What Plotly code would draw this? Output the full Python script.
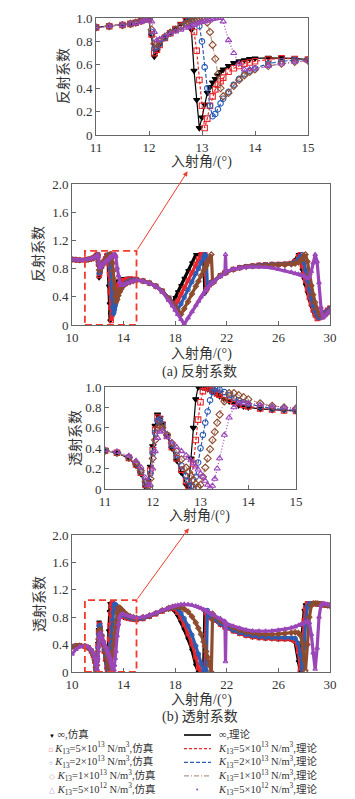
import plotly.graph_objects as go

W, H = 355, 799


def px(x):
    return x / W


def py(y):
    return 1 - y / H


# ---------------- data ----------------
ANGLE = [
    10.0, 10.3, 10.6, 11.0, 11.25, 11.5, 11.65, 11.75, 11.85, 11.9,
    11.95, 12.0, 12.05, 12.1, 12.15, 12.2, 12.3, 12.4, 12.5, 12.6,
    12.7, 12.75, 12.8, 12.85, 12.9, 12.95, 13.0, 13.05, 13.1, 13.15,
    13.2, 13.25, 13.3, 13.35, 13.4, 13.5, 13.6, 13.7, 13.8, 13.9,
    14.0, 14.25, 14.5, 14.75, 15.0, 15.5, 16.0, 16.5, 17.0, 17.5,
    17.8, 18.0, 18.2, 18.45, 18.7, 19.0, 19.3, 19.6, 19.8, 20.0,
    20.2, 20.3, 20.4, 20.5, 20.65, 20.8, 20.9, 21.0, 21.5, 21.85,
    21.9, 21.95, 22.5, 23.0, 23.5, 24.0, 24.5, 25.0, 25.5, 26.0,
    26.5, 27.0, 27.3, 27.55, 27.7, 27.85, 28.0, 28.1, 28.25, 28.4,
    28.55, 28.7, 28.85, 29.0, 29.15, 29.3, 29.45, 29.6, 29.8, 30.0,
]

# reflection coefficient
R_INF = [
    0.93, 0.925, 0.92, 0.92, 0.93, 0.94, 0.95, 0.96, 0.975, 0.985,
    0.995, 0.99, 0.85, 0.67, 0.72, 0.77, 0.83, 0.87, 0.91, 0.95,
    0.99, 1.0, 0.9, 0.55, 0.3, 0.06, 0.15, 0.26, 0.36, 0.41,
    0.45, 0.48, 0.51, 0.54, 0.56, 0.59, 0.615, 0.63, 0.64, 0.65,
    0.655, 0.66, 0.66, 0.655, 0.645, 0.625, 0.595, 0.55, 0.48, 0.38,
    0.31, 0.39, 0.47, 0.56, 0.66, 0.77, 0.88, 1.0, 1.0, 1.0,
    1.0, 0.45, 0.5, 0.53, 0.57, 0.6, 0.61, 0.62, 0.7, 0.74,
    0.745, 0.75, 0.79, 0.815, 0.83, 0.84, 0.85, 0.855, 0.86, 0.86,
    0.865, 0.88, 0.92, 1.0, 0.92, 0.78, 0.65, 0.57, 0.46, 0.36,
    0.27, 0.19, 0.13, 0.1, 0.11, 0.13, 0.16, 0.18, 0.21, 0.25,
]
R_K5E13 = [
    0.93, 0.925, 0.92, 0.92, 0.93, 0.94, 0.95, 0.96, 0.975, 0.985,
    0.995, 0.99, 0.86, 0.7, 0.73, 0.77, 0.83, 0.87, 0.905, 0.94,
    0.975, 0.99, 0.98, 0.88, 0.72, 0.47, 0.25, 0.06, 0.14, 0.25,
    0.33, 0.39, 0.43, 0.46, 0.49, 0.54, 0.57, 0.59, 0.61, 0.62,
    0.63, 0.645, 0.655, 0.65, 0.645, 0.625, 0.595, 0.55, 0.48, 0.38,
    0.31, 0.27, 0.34, 0.43, 0.52, 0.63, 0.74, 0.86, 0.94, 1.0,
    1.0, 1.0, 0.5, 0.53, 0.57, 0.6, 0.61, 0.62, 0.7, 0.74,
    0.745, 0.75, 0.79, 0.815, 0.83, 0.84, 0.85, 0.855, 0.86, 0.86,
    0.865, 0.875, 0.9, 0.97, 1.0, 0.85, 0.72, 0.63, 0.5, 0.39,
    0.3, 0.21, 0.14, 0.09, 0.1, 0.12, 0.15, 0.18, 0.21, 0.24,
]
R_K2E13 = [
    0.93, 0.925, 0.92, 0.92, 0.93, 0.94, 0.95, 0.96, 0.975, 0.985,
    0.995, 0.99, 0.88, 0.74, 0.75, 0.78, 0.83, 0.87, 0.9, 0.93,
    0.96, 0.975, 0.99, 1.0, 0.99, 0.93, 0.8, 0.58, 0.4, 0.25,
    0.16, 0.18, 0.22, 0.27, 0.31, 0.37, 0.43, 0.48, 0.52, 0.55,
    0.57, 0.61, 0.63, 0.64, 0.64, 0.625, 0.595, 0.55, 0.48, 0.38,
    0.31, 0.26, 0.22, 0.3, 0.39, 0.5, 0.61, 0.73, 0.8, 0.88,
    0.96, 1.0, 0.98, 0.53, 0.57, 0.6, 0.61, 0.62, 0.7, 0.74,
    0.745, 0.75, 0.79, 0.815, 0.83, 0.84, 0.85, 0.855, 0.86, 0.86,
    0.865, 0.87, 0.89, 0.93, 0.97, 1.0, 0.88, 0.78, 0.63, 0.5,
    0.38, 0.28, 0.2, 0.14, 0.1, 0.11, 0.14, 0.17, 0.2, 0.23,
]
R_K1E13 = [
    0.93, 0.925, 0.92, 0.92, 0.93, 0.94, 0.95, 0.96, 0.975, 0.985,
    0.995, 0.99, 0.9, 0.78, 0.78, 0.8, 0.84, 0.875, 0.9, 0.925,
    0.95, 0.96, 0.97, 0.98, 0.99, 1.0, 1.0, 1.0, 0.96, 0.88,
    0.77, 0.65, 0.52, 0.4, 0.33, 0.36, 0.42, 0.47, 0.51, 0.54,
    0.56, 0.59, 0.61, 0.625, 0.635, 0.625, 0.595, 0.55, 0.48, 0.37,
    0.3, 0.25, 0.2, 0.15, 0.23, 0.33, 0.44, 0.55, 0.62, 0.7,
    0.77, 0.8, 0.84, 0.88, 0.94, 1.0, 0.6, 0.62, 0.7, 0.74,
    0.745, 0.75, 0.785, 0.81, 0.825, 0.835, 0.84, 0.845, 0.85, 0.85,
    0.855, 0.86, 0.87, 0.89, 0.91, 0.94, 0.98, 1.0, 0.9, 0.72,
    0.56, 0.43, 0.32, 0.23, 0.16, 0.12, 0.12, 0.14, 0.17, 0.21,
]
R_K5E12 = [
    0.93, 0.925, 0.92, 0.92, 0.93, 0.94, 0.95, 0.955, 0.965, 0.975,
    0.985, 0.995, 0.97, 0.88, 0.81, 0.82, 0.845, 0.865, 0.885, 0.9,
    0.915, 0.92, 0.93, 0.94, 0.95, 0.96, 0.965, 0.97, 0.975, 0.98,
    0.99, 0.995, 1.0, 1.0, 0.97, 0.81, 0.7, 0.61, 0.56, 0.56,
    0.57, 0.59, 0.61, 0.625, 0.635, 0.62, 0.59, 0.55, 0.47, 0.35,
    0.27, 0.21, 0.15, 0.08, 0.01, 0.1, 0.19, 0.28, 0.34, 0.4,
    0.45, 0.48, 0.5, 0.53, 0.56, 0.59, 0.6, 0.62, 0.69, 0.73,
    1.0, 0.76, 0.79, 0.81, 0.82, 0.825, 0.825, 0.82, 0.81, 0.79,
    0.77, 0.75, 0.73, 0.72, 0.71, 0.7, 0.69, 0.68, 0.66, 0.68,
    0.76, 0.88, 1.0, 0.9, 0.6, 0.25, 0.1, 0.13, 0.17, 0.21,
]

# transmission coefficient
T_INF = [
    0.37, 0.38, 0.385, 0.375, 0.355, 0.3, 0.23, 0.15, 0.02, 0.08,
    0.22, 0.42, 0.62, 0.73, 0.7, 0.64, 0.52, 0.4, 0.28, 0.16,
    0.04, 0.01, 0.3, 0.6, 0.88, 1.0, 1.0, 0.995, 0.99, 0.98,
    0.97, 0.955, 0.94, 0.925, 0.91, 0.88, 0.86, 0.84, 0.82, 0.81,
    0.8, 0.785, 0.775, 0.77, 0.765, 0.78, 0.81, 0.85, 0.89, 0.92,
    0.92, 0.88, 0.82, 0.73, 0.62, 0.48, 0.32, 0.1, 0.0, 0.0,
    0.0, 0.88, 0.86, 0.84, 0.81, 0.79, 0.77, 0.76, 0.69, 0.65,
    0.65, 0.645, 0.6, 0.56, 0.53, 0.51, 0.5, 0.49, 0.485, 0.48,
    0.48, 0.475, 0.43, 0.15, 0.0, 0.55, 0.9, 0.98, 1.0, 1.0,
    1.0, 1.0, 1.0, 0.995, 0.99, 0.99, 0.985, 0.98, 0.975, 0.97,
]
T_K5E13 = [
    0.37, 0.38, 0.385, 0.375, 0.355, 0.305, 0.24, 0.16, 0.04, 0.05,
    0.18, 0.38, 0.58, 0.7, 0.68, 0.63, 0.52, 0.41, 0.3, 0.19,
    0.08, 0.03, 0.02, 0.25, 0.48, 0.68, 0.85, 0.96, 1.0, 0.995,
    0.985, 0.97, 0.955, 0.94, 0.925, 0.9, 0.875, 0.855, 0.84, 0.825,
    0.81, 0.79, 0.78, 0.77, 0.765, 0.78, 0.81, 0.85, 0.89, 0.925,
    0.935, 0.92, 0.87, 0.79, 0.69, 0.56, 0.41, 0.22, 0.06, 0.0,
    0.0, 0.02, 0.87, 0.85, 0.82, 0.79, 0.78, 0.765, 0.7, 0.66,
    0.655, 0.65, 0.6, 0.565, 0.535, 0.515, 0.5, 0.495, 0.49, 0.485,
    0.485, 0.48, 0.46, 0.3, 0.02, 0.3, 0.75, 0.93, 1.0, 1.0,
    1.0, 1.0, 1.0, 0.995, 0.99, 0.99, 0.985, 0.98, 0.975, 0.97,
]
T_K2E13 = [
    0.37, 0.38, 0.385, 0.375, 0.355, 0.31, 0.25, 0.17, 0.05, 0.03,
    0.15, 0.35, 0.55, 0.67, 0.68, 0.63, 0.53, 0.43, 0.33, 0.23,
    0.13, 0.08, 0.03, 0.02, 0.12, 0.26, 0.4, 0.53, 0.65, 0.76,
    0.87, 0.95, 0.99, 0.985, 0.975, 0.95, 0.92, 0.895, 0.87, 0.85,
    0.835, 0.81, 0.79, 0.78, 0.77, 0.785, 0.815, 0.855, 0.895, 0.93,
    0.945, 0.945, 0.92, 0.86, 0.78, 0.67, 0.54, 0.38, 0.26, 0.13,
    0.03, 0.0, 0.02, 0.9, 0.85, 0.81, 0.79, 0.775, 0.71, 0.67,
    0.665, 0.66, 0.61, 0.575, 0.55, 0.53, 0.515, 0.51, 0.505, 0.505,
    0.505, 0.5, 0.49, 0.42, 0.26, 0.03, 0.35, 0.7, 0.95, 1.0,
    1.0, 1.0, 1.0, 0.995, 0.99, 0.99, 0.985, 0.98, 0.975, 0.97,
]
T_K1E13 = [
    0.37, 0.38, 0.385, 0.375, 0.355, 0.31, 0.255, 0.18, 0.07, 0.02,
    0.1, 0.3, 0.48, 0.6, 0.62, 0.6, 0.53, 0.45, 0.37, 0.29,
    0.21, 0.17, 0.13, 0.09, 0.05, 0.02, 0.04, 0.12, 0.21, 0.3,
    0.39, 0.48, 0.56, 0.65, 0.73, 0.86, 0.94, 0.94, 0.92, 0.9,
    0.88, 0.84, 0.815, 0.8, 0.79, 0.8, 0.825, 0.86, 0.9, 0.935,
    0.95, 0.955, 0.955, 0.94, 0.92, 0.88, 0.81, 0.72, 0.64, 0.55,
    0.44, 0.38, 0.3, 0.22, 0.1, 0.0, 0.85, 0.82, 0.75, 0.71,
    0.705, 0.7, 0.65, 0.61, 0.585, 0.565, 0.555, 0.55, 0.55, 0.555,
    0.565, 0.575, 0.58, 0.57, 0.54, 0.43, 0.18, 0.02, 0.4, 0.8,
    0.97, 1.0, 1.0, 1.0, 0.995, 0.99, 0.985, 0.98, 0.975, 0.97,
]
T_K5E12 = [
    0.26, 0.33, 0.37, 0.38, 0.365, 0.325, 0.275, 0.215, 0.11, 0.04,
    0.04, 0.2, 0.37, 0.5, 0.56, 0.57, 0.51, 0.455, 0.41, 0.37,
    0.33, 0.305, 0.28, 0.25, 0.22, 0.19, 0.15, 0.12, 0.08, 0.04,
    0.01, 0.03, 0.1, 0.2, 0.3, 0.53, 0.7, 0.8, 0.84, 0.845,
    0.84, 0.825, 0.81, 0.8, 0.79, 0.8, 0.825, 0.86, 0.9, 0.935,
    0.955, 0.965, 0.975, 0.985, 0.99, 0.985, 0.975, 0.96, 0.945, 0.93,
    0.91, 0.9, 0.89, 0.88, 0.865, 0.85, 0.84, 0.83, 0.78, 0.74,
    0.15, 0.71, 0.67, 0.64, 0.615, 0.6, 0.595, 0.595, 0.6, 0.61,
    0.625, 0.645, 0.66, 0.68, 0.69, 0.7, 0.715, 0.725, 0.74, 0.72,
    0.55, 0.28, 0.04, 0.35, 0.8, 0.98, 1.0, 0.995, 0.985, 0.975,
]

R_SERIES = [R_INF, R_K5E13, R_K2E13, R_K1E13, R_K5E12]
T_SERIES = [T_INF, T_K5E13, T_K2E13, T_K1E13, T_K5E12]

ZOOM_X_TICKS = [11, 12, 13, 14, 15]
ZOOM_Y_TICKS = [0, 0.2, 0.4, 0.6, 0.8, 1.0]
ZOOM_Y_TEXT = ["0", "0.2", "0.4", "0.6", "0.8", "1.0"]
FULL_X_TICKS = [10, 14, 18, 22, 26, 30]
FULL_Y_TICKS = [0, 0.4, 0.8, 1.2, 1.6, 2.0]
FULL_Y_TEXT = ["0", "0.4", "0.8", "1.2", "1.6", "2.0"]

ZOOM_BOX_X = [11, 15]
ZOOM_BOX_Y = [0, 1.05]

SIM_LABELS = [
    "∞,仿真",
    "<i>K</i><sub>13</sub>=5×10<sup>13</sup> N/m<sup>3</sup>,仿真",
    "<i>K</i><sub>13</sub>=2×10<sup>13</sup> N/m<sup>3</sup>,仿真",
    "<i>K</i><sub>13</sub>=1×10<sup>13</sup> N/m<sup>3</sup>,仿真",
    "<i>K</i><sub>13</sub>=5×10<sup>12</sup> N/m<sup>3</sup>,仿真",
]
THEORY_LABELS = [
    "∞,理论",
    "<i>K</i><sub>13</sub>=5×10<sup>13</sup> N/m<sup>3</sup>,理论",
    "<i>K</i><sub>13</sub>=2×10<sup>13</sup> N/m<sup>3</sup>,理论",
    "<i>K</i><sub>13</sub>=1×10<sup>13</sup> N/m<sup>3</sup>,理论",
    "<i>K</i><sub>13</sub>=5×10<sup>12</sup> N/m<sup>3</sup>,理论",
]

# ---------------- styles ----------------
FONT = "Liberation Serif, Noto Sans CJK SC, serif"
TXT = "#333333"
AX = "#666666"
COLORS = ["#000000", "#E8262B", "#2B5DB5", "#8E4B2E", "#9B46B8"]
LINE_COLORS = ["#000000", "#E8262B", "#2B5DB5", "#B8988A", "#9B46B8"]
SYMBOLS = ["triangle-down", "square-open", "circle-open", "diamond-open",
           "triangle-up-open"]
GLYPHS = ["▼", "□", "○", "◇", "△"]
DASHES = ["solid", "3px,2px", "4px,2px", "5px,2px,1px,2px", "1px,2px"]
ARROW_RED = "#F03A2E"

fig = go.Figure()

panels = [
    ("x", "y", R_SERIES, True),
    ("x2", "y2", R_SERIES, False),
    ("x3", "y3", T_SERIES, True),
    ("x4", "y4", T_SERIES, False),
]
for xa, ya, series, is_zoom in panels:
    for i, vals in enumerate(series):
        if is_zoom:
            line = dict(color=LINE_COLORS[i], width=1.2, dash=DASHES[i])
            marker = dict(symbol=SYMBOLS[i], size=5.5, color=COLORS[i],
                          line=dict(color=COLORS[i], width=1.1))
        else:
            line = dict(color=COLORS[i], width=3.2)
            marker = dict(symbol=SYMBOLS[i], size=4, color=COLORS[i],
                          line=dict(color=COLORS[i], width=1.2))
        fig.add_trace(go.Scatter(
            x=ANGLE, y=vals, xaxis=xa, yaxis=ya,
            mode="lines+markers", showlegend=False,
            line=line, marker=marker,
        ))


def axis(domain, rng, tickvals, ticktext=None, anchor=None):
    d = dict(domain=domain, range=rng, tickvals=tickvals, ticks="inside",
             ticklen=4, tickwidth=1, tickcolor=AX, showline=True,
             linecolor=AX, linewidth=1, mirror=True, showgrid=False,
             zeroline=False, automargin=False,
             tickfont=dict(family=FONT, size=13, color=TXT))
    if ticktext is not None:
        d["ticktext"] = ticktext
    if anchor:
        d["anchor"] = anchor
    return d


P1 = dict(x=(88, 300), y=(10, 127))
P2 = dict(x=(64, 322), y=(176, 317))
P3 = dict(x=(97, 288), y=(379, 481))
P4 = dict(x=(64, 322), y=(527, 664))


def xdom(p):
    return [px(p["x"][0]), px(p["x"][1])]


def ydom(p):
    return [py(p["y"][1]), py(p["y"][0])]


fig.update_layout(
    width=W, height=H,
    margin=dict(l=0, r=0, t=0, b=0),
    paper_bgcolor="white", plot_bgcolor="white",
    font=dict(family=FONT, size=13, color=TXT),
    xaxis=axis(xdom(P1), [11, 15], ZOOM_X_TICKS, anchor="y"),
    yaxis=axis(ydom(P1), [0, 1], ZOOM_Y_TICKS, ZOOM_Y_TEXT, anchor="x"),
    xaxis2=axis(xdom(P2), [10, 30], FULL_X_TICKS, anchor="y2"),
    yaxis2=axis(ydom(P2), [0, 2], FULL_Y_TICKS, FULL_Y_TEXT, anchor="x2"),
    xaxis3=axis(xdom(P3), [11, 15], ZOOM_X_TICKS, anchor="y3"),
    yaxis3=axis(ydom(P3), [0, 1], ZOOM_Y_TICKS, ZOOM_Y_TEXT, anchor="x3"),
    xaxis4=axis(xdom(P4), [10, 30], FULL_X_TICKS, anchor="y4"),
    yaxis4=axis(ydom(P4), [0, 2], FULL_Y_TICKS, FULL_Y_TEXT, anchor="x4"),
)

ann = []


def text(x, y, s, size=14, angle=0, xanchor="center", color=TXT,
         yanchor="middle"):
    ann.append(dict(x=px(x), y=py(y), xref="paper", yref="paper", text=s,
                    showarrow=False, textangle=angle, xanchor=xanchor,
                    yanchor=yanchor, borderpad=0, align="left",
                    font=dict(family=FONT, size=size, color=color)))


# axis titles and captions
text(55, 68, "反射系数", angle=-90)
text(193, 154, "入射角/(°)")
text(31, 246, "反射系数", angle=-90)
text(193, 346, "入射角/(°)")
text(192, 364, "(a) 反射系数")
text(67, 430, "透射系数", angle=-90)
text(192, 508, "入射角/(°)")
text(31, 596, "透射系数", angle=-90)
text(193, 692, "入射角/(°)")
text(192, 708.5, "(b) 透射系数")

# zoom boxes and arrows
shapes = []
for xa, ya in [("x2", "y2"), ("x4", "y4")]:
    shapes.append(dict(type="rect", xref=xa, yref=ya,
                       x0=ZOOM_BOX_X[0], x1=ZOOM_BOX_X[1],
                       y0=ZOOM_BOX_Y[0], y1=ZOOM_BOX_Y[1],
                       line=dict(color=ARROW_RED, width=1.8, dash="7px,4px")))

ann.append(dict(x=18.96, y=2.18, xref="x2", yref="y2", ax=ZOOM_BOX_X[1],
                ay=ZOOM_BOX_Y[1], axref="x2", ayref="y2", text="",
                showarrow=True, arrowhead=2, arrowsize=1, arrowwidth=1,
                arrowcolor=ARROW_RED))
ann.append(dict(x=19.06, y=2.10, xref="x4", yref="y4", ax=ZOOM_BOX_X[1],
                ay=ZOOM_BOX_Y[1], axref="x4", ayref="y4", text="",
                showarrow=True, arrowhead=2, arrowsize=1, arrowwidth=1,
                arrowcolor=ARROW_RED))

# legend (two columns, one multi-line text block per column)
LEG_SIZE = 10.5
LEG_STEP = 1.3 * LEG_SIZE
LEG_TOP = 718.5
left_lines = [
    '<span style="color:%s;font-size:6px">%s</span>\u00a0%s'
    % (COLORS[i], GLYPHS[i], SIM_LABELS[i]) for i in range(5)
]
text(40, LEG_TOP, "<br>".join(left_lines), size=LEG_SIZE, xanchor="left",
     yanchor="top")
text(209, LEG_TOP, "<br>".join(THEORY_LABELS), size=LEG_SIZE,
     xanchor="left", yanchor="top")
for i in range(5):
    yy = LEG_TOP + 8.5 + i * LEG_STEP
    if i < 4:
        shapes.append(dict(type="line", xref="paper", yref="paper",
                           x0=px(176), x1=px(203), y0=py(yy), y1=py(yy),
                           line=dict(color=LINE_COLORS[i],
                                     width=1.6 if i == 0 else 1.2,
                                     dash=DASHES[i])))
    else:
        shapes.append(dict(type="circle", xref="paper", yref="paper",
                           x0=px(188.2), x1=px(190.2), y0=py(yy + 1),
                           y1=py(yy - 1), fillcolor=COLORS[i],
                           line=dict(width=0)))

fig.update_layout(annotations=ann, shapes=shapes)
fig.write_html("out.html")
